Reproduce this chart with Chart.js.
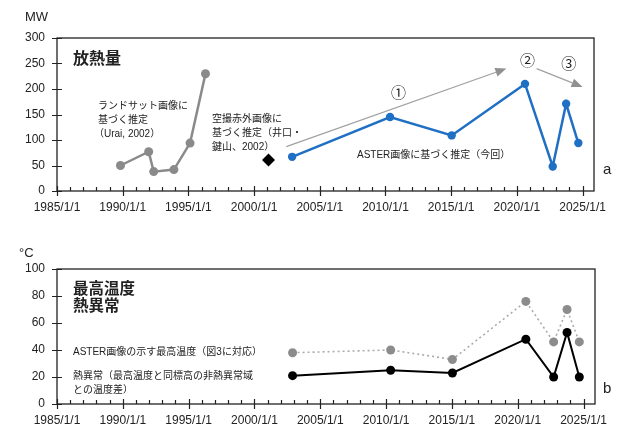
<!DOCTYPE html>
<html lang="ja">
<head>
<meta charset="utf-8">
<script src="https://cdn.jsdelivr.net/npm/chart.js@4.4.1/dist/chart.umd.min.js"></script>
<style>
  html, body { margin: 0; padding: 0; background: #fff; }
  #wrap { position: relative; width: 623px; height: 425px; }
  .panel { position: absolute; left: 0; width: 623px; }
  #heatBox { top: 0; height: 215px; }
  #tempBox { top: 222px; height: 203px; }
</style>
</head>
<body>
<div id="wrap">
  <div class="panel" id="heatBox"><canvas id="heatChart"></canvas></div>
  <div class="panel" id="tempBox"><canvas id="tempChart"></canvas></div>
</div>
<script>
// ---- data ----
// (a) heat discharge, MW
const landsatDates = ['1989/10/31', '1991/12/24', '1992/5/12', '1993/11/25', '1995/2/16', '1996/4/20'];
const landsatMW = [50, 77, 38, 42, 94, 230];

const airborneDates = ['2001/2/6'];
const airborneMW = [61];

const asterDates = ['2002/11/24', '2010/5/8', '2015/1/15', '2020/8/14', '2022/9/24', '2023/10/1', '2024/9/5'];
const asterMW = [67, 145, 109, 210, 48, 171, 94];

// (b) temperature, °C (same ASTER scenes)
const maxTemp = [38, 40, 33, 76, 46, 70, 46];
const thermalAnomaly = [21, 25, 23, 48, 20, 53, 20];

const yearTicks = [1985, 1990, 1995, 2000, 2005, 2010, 2015, 2020, 2025];
const mwTicks = [0, 50, 100, 150, 200, 250, 300];
const tempTicks = [0, 20, 40, 60, 80, 100];

// ---- helpers ----
function toYear(s) {
    const [y, m, d] = s.split('/').map(Number);
    const start = Date.UTC(y, 0, 1);
    const end = Date.UTC(y + 1, 0, 1);
    return y + (Date.UTC(y, m - 1, d) - start) / (end - start);
}

function points(dates, values) {
    return dates.map((d, i) => ({ x: toYear(d), y: values[i] }));
}

const FONT = "'Liberation Sans', Arial, 'Noto Sans CJK JP', sans-serif";
const JFONT = "'Liberation Sans', 'Noto Sans CJK JP', sans-serif";

Chart.defaults.font.family = FONT;
Chart.defaults.color = '#222';

function xScale() {
    return {
        type: 'linear',
        min: 1985,
        max: 2025.87,
        grid: { display: false, drawTicks: false },
        border: { display: false },
        ticks: {
            stepSize: 1,
            autoSkip: false,
            includeBounds: false,
            maxRotation: 0,
            padding: 9,
            font: { size: 12 },
            color: '#222',
            callback: v => yearTicks.includes(Math.round(v)) ? Math.round(v) + '/1/1' : ''
        },
        afterFit: s => { s.height = 24; }
    };
}

function yScale(max, step, tickList) {
    return {
        min: 0,
        max: max,
        grid: { display: false, drawTicks: false },
        border: { display: false },
        ticks: {
            stepSize: step,
            padding: 12,
            font: { size: 12 },
            color: '#222',
            callback: v => tickList.includes(v) ? v : ''
        },
        afterFit: s => { s.width = 57; }
    };
}

// frame, tick marks and the free text on each panel
function framePlugin(opts) {
    return {
        id: 'frame_' + opts.name,
        afterDraw(chart) {
            const { ctx, chartArea: a, scales } = chart;
            ctx.save();
            ctx.strokeStyle = '#222';
            ctx.lineWidth = 1.3;
            ctx.strokeRect(a.left, a.top, a.right - a.left, a.bottom - a.top);

            // x ticks: every year, longer every 5 years
            ctx.lineWidth = 1.2;
            ctx.beginPath();
            for (let yr = 1985; yr <= 2025; yr++) {
                const px = Math.round(scales.x.getPixelForValue(yr)) + 0.5;
                if (yr % 5 === 0) {
                    ctx.moveTo(px, a.bottom - 5);
                    ctx.lineTo(px, a.bottom + 5);
                } else {
                    ctx.moveTo(px, a.bottom - 4);
                    ctx.lineTo(px, a.bottom);
                }
            }
            // y ticks crossing the axis
            opts.yTicks.forEach(v => {
                const py = Math.round(scales.y.getPixelForValue(v)) + 0.5;
                ctx.moveTo(a.left - 5, py);
                ctx.lineTo(a.left + 5, py);
            });
            ctx.stroke();

            ctx.textBaseline = 'middle';
            opts.texts.forEach(t => {
                ctx.font = (t.bold ? 'bold ' : '') + t.size + 'px ' + JFONT;
                ctx.textAlign = t.align || 'left';
                ctx.fillStyle = t.color || '#222';
                ctx.fillText(t.text, t.x, t.y);
            });

            if (opts.extra) opts.extra(chart);
            ctx.restore();
        }
    };
}

function arrow(ctx, x1, y1, x2, y2) {
    const ang = Math.atan2(y2 - y1, x2 - x1);
    const len = 11, half = 4.5;
    const bx = x2 - len * Math.cos(ang), by = y2 - len * Math.sin(ang);
    ctx.strokeStyle = '#a0a0a0';
    ctx.fillStyle = '#909090';
    ctx.lineWidth = 1.2;
    ctx.beginPath();
    ctx.moveTo(x1, y1);
    ctx.lineTo(bx, by);
    ctx.stroke();
    ctx.beginPath();
    ctx.moveTo(x2, y2);
    ctx.lineTo(bx + half * Math.sin(ang), by - half * Math.cos(ang));
    ctx.lineTo(bx - half * Math.sin(ang), by + half * Math.cos(ang));
    ctx.closePath();
    ctx.fill();
}

const baseOptions = {
    responsive: true,
    maintainAspectRatio: false,
    animation: false,
    plugins: { legend: { display: false }, tooltip: { enabled: false } },
};

// ---- (a) heat discharge ----
new Chart(document.getElementById('heatChart'), {
    type: 'line',
    data: {
        datasets: [
            {
                data: points(landsatDates, landsatMW),
                borderColor: '#8a8a8a',
                backgroundColor: '#8a8a8a',
                borderWidth: 2.5,
                pointRadius: 4.5,
                pointBorderWidth: 0,
                tension: 0
            },
            {
                data: points(airborneDates, airborneMW),
                showLine: false,
                pointStyle: 'rectRot',
                pointRadius: 6.5,
                pointBorderWidth: 0,
                backgroundColor: '#000',
                borderColor: '#000'
            },
            {
                data: points(asterDates, asterMW),
                borderColor: '#1f6fc4',
                backgroundColor: '#1f6fc4',
                borderWidth: 2.5,
                pointRadius: 4.2,
                pointBorderWidth: 0,
                tension: 0
            }
        ]
    },
    options: {
        ...baseOptions,
        layout: { padding: { top: 38, right: 29, left: 0, bottom: 0 } },
        scales: { x: xScale(), y: yScale(300, 50, mwTicks) }
    },
    plugins: [framePlugin({
        name: 'heat',
        yTicks: mwTicks,
        texts: [
            { text: 'MW', x: 25, y: 17, size: 13 },
            { text: '放熱量', x: 73, y: 60, size: 16, bold: true },
            { text: 'ランドサット画像に', x: 98, y: 106, size: 10 },
            { text: '基づく推定', x: 98, y: 120, size: 10 },
            { text: '（Urai, 2002）', x: 94, y: 134, size: 10 },
            { text: '空撮赤外画像に', x: 212, y: 119, size: 10 },
            { text: '基づく推定（井口・', x: 212, y: 133, size: 10 },
            { text: '鍵山、2002）', x: 212, y: 147, size: 10 },
            { text: 'ASTER画像に基づく推定（今回）', x: 357, y: 155, size: 10 },
            { text: 'a', x: 603, y: 170, size: 15 }
        ],
        extra(chart) {
            const { ctx, scales } = chart;
            const X = v => scales.x.getPixelForValue(v);
            const Y = v => scales.y.getPixelForValue(v);
            arrow(ctx, X(2002.45), Y(87), X(2019.2), Y(240));
            arrow(ctx, X(2021.5), Y(240), X(2025.0), Y(204));
            ctx.fillStyle = '#222';
            ctx.textAlign = 'center';
            ctx.font = '15px ' + JFONT;
            ctx.fillText('①', X(2011.0), Y(190));
            ctx.fillText('②', X(2020.8), Y(253));
            ctx.fillText('③', X(2023.95), Y(248));
        }
    })]
});

// ---- (b) max temperature and thermal anomaly ----
new Chart(document.getElementById('tempChart'), {
    type: 'line',
    data: {
        datasets: [
            {
                data: points(asterDates, maxTemp),
                borderColor: '#ababab',
                backgroundColor: '#8c8c8c',
                borderWidth: 1.6,
                borderDash: [2, 3],
                pointRadius: 4.5,
                pointBorderWidth: 0,
                tension: 0
            },
            {
                data: points(asterDates, thermalAnomaly),
                borderColor: '#000',
                backgroundColor: '#000',
                borderWidth: 2,
                pointRadius: 4.5,
                pointBorderWidth: 0,
                tension: 0
            }
        ]
    },
    options: {
        ...baseOptions,
        layout: { padding: { top: 47, right: 28, left: 0, bottom: 0 } },
        scales: {
            x: { ...xScale(), afterFit: s => { s.height = 21; } },
            y: yScale(100, 20, tempTicks)
        }
    },
    plugins: [framePlugin({
        name: 'temp',
        yTicks: tempTicks,
        texts: [
            { text: '°C', x: 19, y: 31, size: 13 },
            { text: '最高温度', x: 73, y: 68, size: 15.5, bold: true },
            { text: '熱異常', x: 73, y: 85, size: 15.5, bold: true },
            { text: 'ASTER画像の示す最高温度（図3に対応）', x: 73, y: 130, size: 10 },
            { text: '熱異常（最高温度と同標高の非熱異常域', x: 73, y: 154, size: 10 },
            { text: 'との温度差）', x: 73, y: 168, size: 10 },
            { text: 'b', x: 603, y: 167, size: 15 }
        ]
    })]
});
</script>
</body>
</html>
